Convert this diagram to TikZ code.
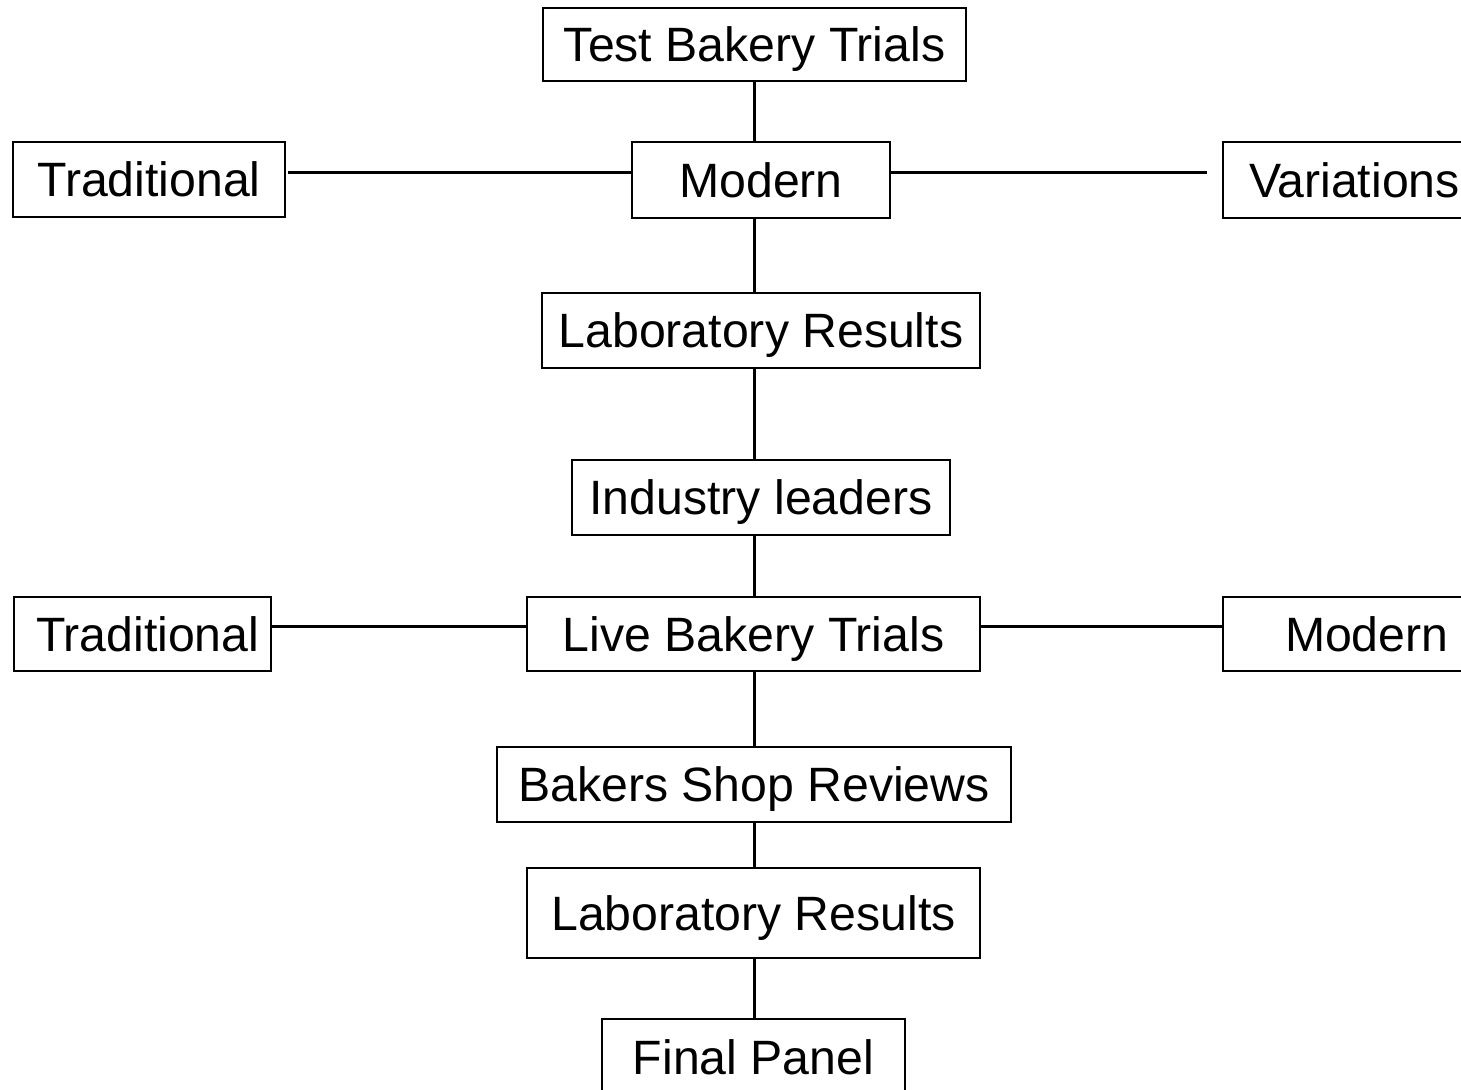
\documentclass[tikz,border=0pt]{standalone}
\usepackage{fontspec}
\setmainfont{Liberation Sans}
\begin{document}
\begin{tikzpicture}[x=0.5pt,y=-0.5pt,
  box/.style={draw, line width=1pt, inner sep=0pt, text height=17.2pt, text depth=0pt,
    font=\fontsize{24.1}{28}\selectfont},
  link/.style={line width=1.5pt}]
\useasboundingbox (0,0) rectangle (1461,1090);
\node[box, minimum width=211.5pt, minimum height=36.5pt] (tbt) at (754.5,44.5) {Test Bakery Trials};
\node[box, minimum width=136pt, minimum height=37.5pt] (trad1) at (149,179.5) {Traditional};
\node[box, minimum width=129pt, minimum height=38pt] (mod1) at (761,180) {Modern};
\node[box, anchor=west, inner xsep=13pt, minimum height=38pt] (var) at (1222,180) {Variations};
\node[box, minimum width=219pt, minimum height=37.5pt] (lab1) at (761,330.5) {Laboratory Results};
\node[box, minimum width=189pt, minimum height=37.5pt] (ind) at (761,497.5) {Industry leaders};
\node[box, anchor=west, inner xsep=11pt, minimum width=128.5pt, minimum height=37pt, text width=106.5pt, align=left] (trad2) at (13,634) {Traditional};
\node[box, minimum width=226.5pt, minimum height=37pt] (live) at (753.5,634) {Live Bakery Trials};
\node[box, anchor=west, inner xsep=31pt, minimum height=37pt] (mod2) at (1222,634) {Modern};
\node[box, minimum width=257pt, minimum height=37.5pt] (bsr) at (754,784.5) {Bakers Shop Reviews};
\node[box, minimum width=226.5pt, minimum height=45pt] (lab2) at (753.5,913) {Laboratory Results};
\node[box, minimum width=151.5pt, minimum height=38.5pt] (final) at (753.5,1057.5) {Final Panel};
\coordinate (spine) at (754,0);
\coordinate (hy1) at (0,173);
\coordinate (hy2) at (0,626);
\coordinate (vend) at (1207,173);
\draw[link] (tbt.south -| spine) -- (mod1.north -| spine);
\draw[link] (mod1.south -| spine) -- (lab1.north -| spine);
\draw[link] (lab1.south -| spine) -- (ind.north -| spine);
\draw[link] (ind.south -| spine) -- (live.north -| spine);
\draw[link] (live.south -| spine) -- (bsr.north -| spine);
\draw[link] (bsr.south -| spine) -- (lab2.north -| spine);
\draw[link] (lab2.south -| spine) -- (final.north -| spine);
\draw[link] (trad1.east |- hy1) ++(2,0) -- (mod1.west |- hy1);
\draw[link] (mod1.east |- hy1) -- (vend);
\draw[link] (trad2.east |- hy2) -- (live.west |- hy2);
\draw[link] (live.east |- hy2) -- (mod2.west |- hy2);
\end{tikzpicture}
\end{document}
